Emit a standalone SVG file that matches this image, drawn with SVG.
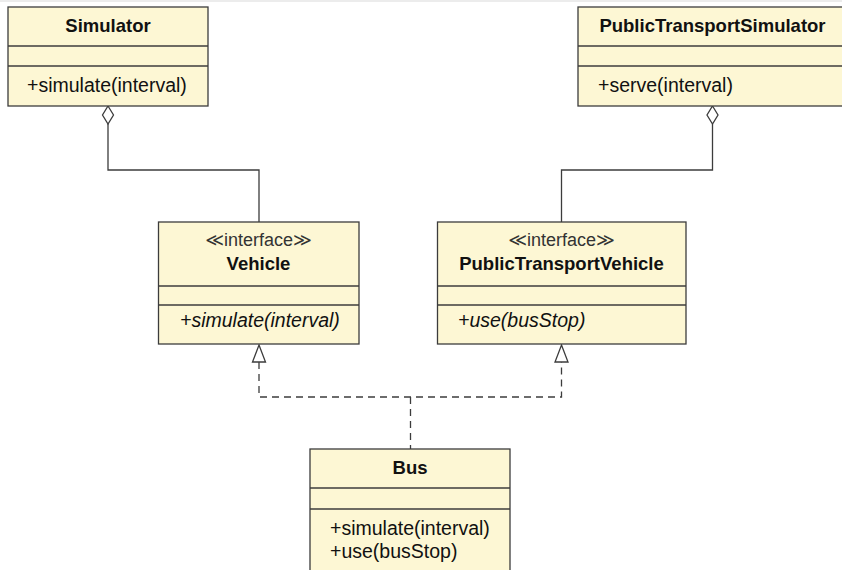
<svg xmlns="http://www.w3.org/2000/svg" width="842" height="570" viewBox="0 0 842 570">
  <style>
    .box { fill: #fdf7d4; stroke: #3c3c3c; stroke-width: 1.3; }
    .sep { stroke: #3c3c3c; stroke-width: 1.3; fill: none; }
    .name { font-family: "Liberation Sans", Arial, sans-serif; font-size: 18.5px; font-weight: bold; fill: #111; text-anchor: middle; }
    .stereo { font-family: "Liberation Sans", "DejaVu Sans", sans-serif; font-size: 18px; fill: #333; text-anchor: middle; }
    .op { font-family: "Liberation Sans", Arial, sans-serif; font-size: 19.5px; fill: #111; }
    .abstract { font-style: italic; }
    .assoc { stroke: #3c3c3c; stroke-width: 1.3; fill: none; }
    .real { stroke: #3c3c3c; stroke-width: 1.3; fill: none; stroke-dasharray: 7 5; }
    .diamond { fill: #ffffff; stroke: #3c3c3c; stroke-width: 1.3; }
    .tri { fill: #ffffff; stroke: #3c3c3c; stroke-width: 1.3; }
  </style>

  <rect x="0" y="0" width="842" height="2" fill="#ececec"/>

  <!-- connectors -->
  <g id="connectors">
    <!-- aggregations -->
    <path class="assoc" d="M108,124 V170 H259 V222"/>
    <polygon class="diamond" points="108,106 113.5,115 108,124 102.5,115"/>
    <path class="assoc" d="M712.5,124 V170 H561.5 V222"/>
    <polygon class="diamond" points="712.5,106 718,115 712.5,124 707,115"/>
    <!-- realizations -->
    <path class="real" d="M259,362 V397 H561.5 V362"/>
    <path class="real" d="M410.5,397 V449"/>
    <polygon class="tri" points="259,345 265.5,362 252.5,362"/>
    <polygon class="tri" points="561.5,345 568,362 555,362"/>
  </g>

  <g id="Simulator">
    <rect class="box" x="8" y="7" width="200" height="99"/>
    <line class="sep" x1="8" y1="46" x2="208" y2="46"/>
    <line class="sep" x1="8" y1="66" x2="208" y2="66"/>
    <text class="name" x="108" y="32">Simulator</text>
    <text class="op" x="27" y="92">+simulate(interval)</text>
  </g>

  <g id="PublicTransportSimulator">
    <rect class="box" x="578" y="7" width="270" height="99"/>
    <line class="sep" x1="578" y1="46" x2="848" y2="46"/>
    <line class="sep" x1="578" y1="66" x2="848" y2="66"/>
    <text class="name" x="712.5" y="32">PublicTransportSimulator</text>
    <text class="op" x="598" y="92">+serve(interval)</text>
  </g>

  <g id="Vehicle">
    <rect class="box" x="158.5" y="222" width="200.5" height="122"/>
    <line class="sep" x1="158.5" y1="286" x2="359" y2="286"/>
    <line class="sep" x1="158.5" y1="305" x2="359" y2="305"/>
    <text class="stereo" x="258.5" y="246">≪interface≫</text>
    <text class="name" x="258.5" y="270">Vehicle</text>
    <text class="op abstract" x="180" y="327">+simulate(interval)</text>
  </g>

  <g id="PublicTransportVehicle">
    <rect class="box" x="437.5" y="222" width="248.5" height="122"/>
    <line class="sep" x1="437.5" y1="286" x2="686" y2="286"/>
    <line class="sep" x1="437.5" y1="305" x2="686" y2="305"/>
    <text class="stereo" x="561.5" y="246">≪interface≫</text>
    <text class="name" x="561.5" y="270">PublicTransportVehicle</text>
    <text class="op abstract" x="458" y="327">+use(busStop)</text>
  </g>

  <g id="Bus">
    <rect class="box" x="310" y="449" width="200" height="130"/>
    <line class="sep" x1="310" y1="488" x2="510" y2="488"/>
    <line class="sep" x1="310" y1="509" x2="510" y2="509"/>
    <text class="name" x="410" y="474">Bus</text>
    <text class="op" x="330" y="535">+simulate(interval)</text>
    <text class="op" x="330" y="558">+use(busStop)</text>
  </g>
</svg>
